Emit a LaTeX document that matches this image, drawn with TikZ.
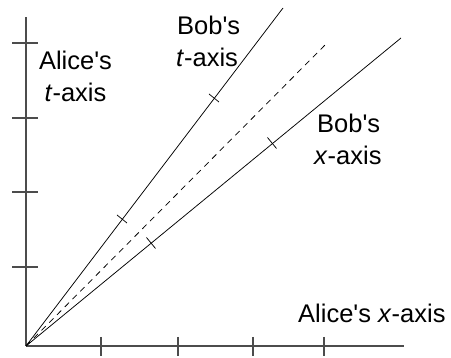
\documentclass[tikz,border=0pt]{standalone}
\usepackage{fontspec}
\setmainfont{Liberation Sans}
\newcommand{\apo}{\textquotesingle}
\begin{document}
\begin{tikzpicture}[x=1pt,y=-1pt,
  alax/.style={draw=black!70,line width=1.1pt},
  altick/.style={draw=black!70,line width=1.1pt},
  bobax/.style={draw=black,line width=0.75pt},
  lightline/.style={draw=black,line width=0.75pt,dash pattern=on 6pt off 5pt},
  lbl/.style={inner sep=0pt,anchor=base west,font=\fontsize{25.5}{31}\selectfont},
  lblc/.style={inner sep=0pt,anchor=base,font=\fontsize{25.5}{31}\selectfont}]
\useasboundingbox (0,0) rectangle (451,358);
\coordinate (O) at (26,346);
\coordinate (AT) at (26,17);
\coordinate (AX) at (404,346);
\coordinate (BT) at (283,8);
\coordinate (BX) at (401,38);
\coordinate (L) at (328,42);
% Alice's axes
\draw[alax] (O) -- (AT);
\draw[alax] (O) -- (AX);
% Alice ticks
\foreach \yy/\nm in {267/ya,192/yb,118/yc,43/yd}{
  \coordinate (\nm) at (26,\yy);
  \draw[altick] (\nm) ++(-14,0) -- ++(26,0);
}
\foreach \xx/\nm in {101/xa,178/xb,253/xc,324/xd}{
  \coordinate (\nm) at (\xx,346);
  \draw[altick] (\nm) ++(0,-9) -- ++(0,19);
}
% Bob's axes and light line
\draw[bobax] (O) -- (BT);
\draw[bobax] (O) -- (BX);
\draw[lightline] (O) -- (L);
% Bob ticks
\coordinate (bt1) at (122,219);
\coordinate (bt2) at (214,98);
\coordinate (bx1) at (151,243);
\coordinate (bx2) at (272,143);
\foreach \c in {bt1,bt2}{\draw[bobax] (\c) ++(-5,-4) -- ++(10,8);}
\foreach \c in {bx1,bx2}{\draw[bobax] (\c) ++(-4.5,-5.5) -- ++(9,11);}
% Labels
\node[lblc] (at1) at (75.5,70) {Alice\apo s};
\node[lblc] (at2) at (75.5,102) {\textit{t}-axis};
\node[lbl] (bt1l) at (177,35) {Bob\apo s};
\node[lbl] (bt2l) at (176,67) {\textit{t}-axis};
\node[lbl] (bx1l) at (317,133) {Bob\apo s};
\node[lbl] (bx2l) at (314,165) {\textit{x}-axis};
\node[lbl] (axl) at (298,323) {Alice\apo s \textit{x}-axis};
\end{tikzpicture}
\end{document}
